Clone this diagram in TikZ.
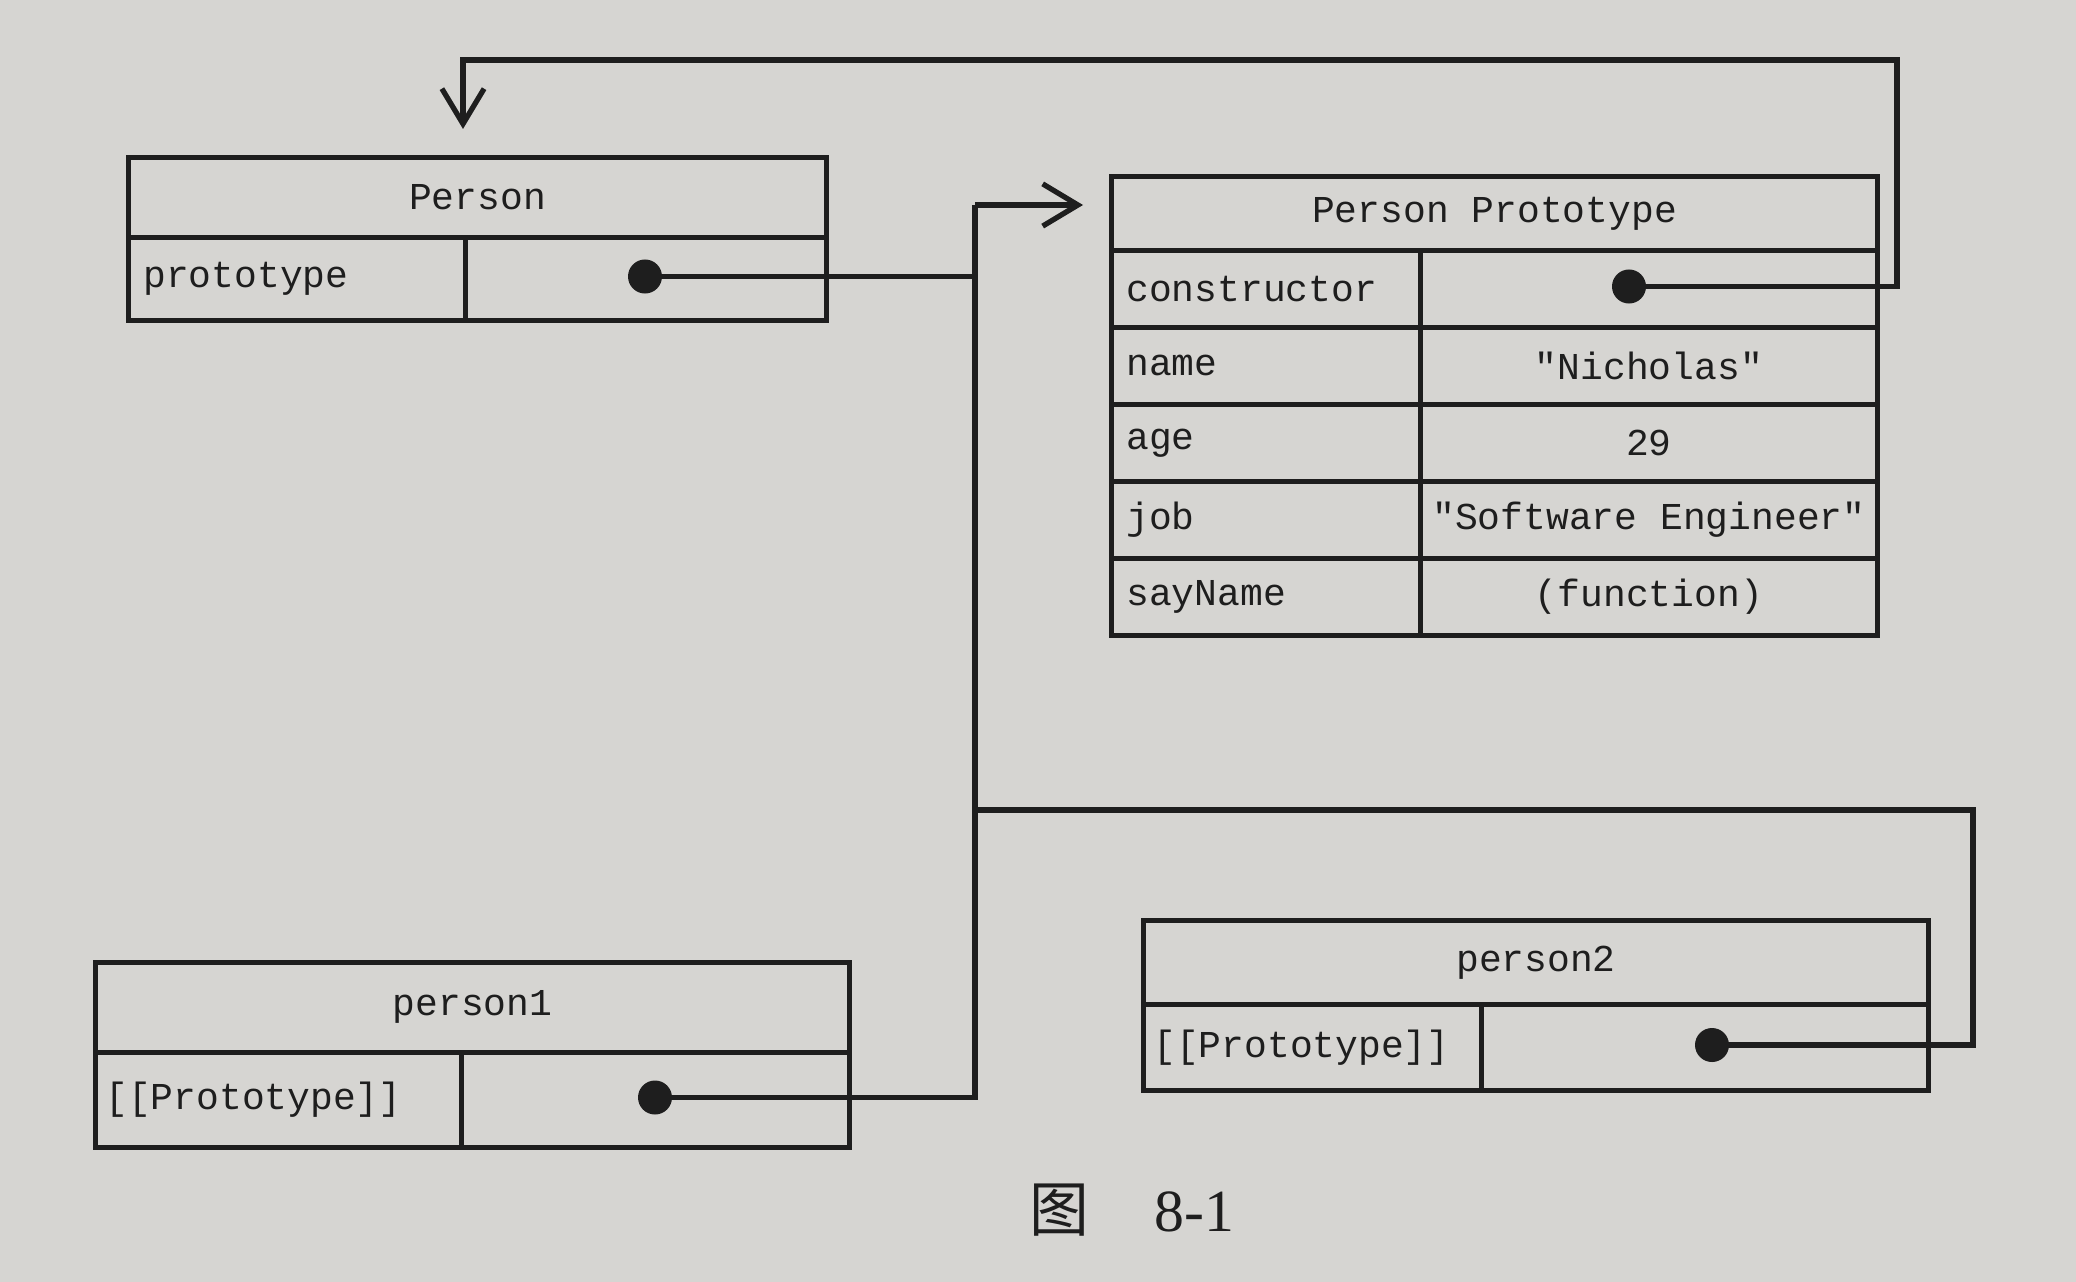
\documentclass[tikz,border=0pt]{standalone}
\usepackage{fontspec}
\usetikzlibrary{arrows.meta}
\newfontfamily\monof{Liberation Mono}
\newfontfamily\cjkf{Noto Sans CJK SC}
\newfontfamily\serf{Liberation Serif}
\definecolor{paper}{RGB}{214,213,210}
\definecolor{ink}{RGB}{30,30,30}
\tikzset{
  cell/.style={draw=ink, line width=1.3pt, inner sep=0pt, anchor=north west,
    font=\monof\fontsize{10.8}{12}\selectfont, text=ink},
  keycell/.style={cell, align=left},
  dotnode/.style={circle, fill=ink, inner sep=0pt, minimum size=0.34cm},
  wire/.style={draw=ink, line width=1.5pt, line join=miter},
  arr/.style={wire, -{Straight Barb[length=10pt,width=12pt]}}
}
\begin{document}
\begin{tikzpicture}[x=0.01cm, y=-0.01cm]
\fill[paper] (0,0) rectangle (2076,1282);
\useasboundingbox (0,0) rectangle (2076,1282);

% Person
\node[cell, minimum width=6.98cm, minimum height=0.80cm] (phead) at (126,155) {Person};
\node[keycell, minimum width=3.37cm, minimum height=0.83cm, text width=3.07cm] (pkey) at (126,235) {prototype};
\node[cell, minimum width=3.61cm, minimum height=0.83cm] (pval) at (463,235) {};
\node[dotnode] (pdot) at (645,276.5) {};

% Person Prototype
\node[cell, minimum width=7.66cm, minimum height=0.74cm] (prhead) at (1109,174) {Person Prototype};
\node[keycell, minimum width=3.09cm, minimum height=0.77cm, text width=2.79cm] (k1) at (1109,248) {constructor};
\node[cell, minimum width=4.57cm, minimum height=0.77cm] (v1) at (1418,248) {};
\node[keycell, minimum width=3.09cm, minimum height=0.77cm, text width=2.79cm] (k2) at (1109,325) {name};
\node[cell, minimum width=4.57cm, minimum height=0.77cm] (v2) at (1418,325) {"Nicholas"};
\node[keycell, minimum width=3.09cm, minimum height=0.77cm, text width=2.79cm] (k3) at (1109,402) {age};
\node[cell, minimum width=4.57cm, minimum height=0.77cm] (v3) at (1418,402) {29};
\node[keycell, minimum width=3.09cm, minimum height=0.77cm, text width=2.79cm] (k4) at (1109,479) {job};
\node[cell, minimum width=4.57cm, minimum height=0.77cm] (v4) at (1418,479) {"Software Engineer"};
\node[keycell, minimum width=3.09cm, minimum height=0.77cm, text width=2.79cm] (k5) at (1109,556) {sayName};
\node[cell, minimum width=4.57cm, minimum height=0.77cm] (v5) at (1418,556) {(function)};
\node[dotnode] (cdot) at (1629,286.5) {};

% person1
\node[cell, minimum width=7.54cm, minimum height=0.90cm] (p1head) at (93,960) {person1};
\node[keycell, minimum width=3.66cm, minimum height=0.95cm, text width=3.46cm] (p1key) at (93,1050) {[[Prototype]]};
\node[cell, minimum width=3.88cm, minimum height=0.95cm] (p1val) at (459,1050) {};
\node[dotnode] (d1) at (655,1097.5) {};

% person2
\node[cell, minimum width=7.85cm, minimum height=0.84cm] (p2head) at (1141,918) {person2};
\node[keycell, minimum width=3.38cm, minimum height=0.86cm, text width=3.18cm] (p2key) at (1141,1002) {[[Prototype]]};
\node[cell, minimum width=4.47cm, minimum height=0.86cm] (p2val) at (1479,1002) {};
\node[dotnode] (d2) at (1712,1045) {};

% wiring coordinates
\coordinate (busTop) at (975,205);
\coordinate (busBot) at (975,1097.5);
\coordinate (busMid) at (975,810);
\coordinate (loopR) at (1897,60);
\coordinate (loopL) at (463,60);
\coordinate (p2R) at (1973,810);

% constructor -> Person
\draw[arr, shorten >=0.26cm] (cdot.center) -- (cdot.center -| loopR) -- (loopR) -- (loopL) -- (loopL |- phead.north);
% bus -> Person Prototype
\draw[arr, shorten >=0.26cm] (busTop) -- (busTop -| prhead.west);
\draw[wire] (pdot.center) -- (pdot.center -| busTop);
\draw[wire] (d1.center) -- (busBot) -- (busTop);
\draw[wire] (d2.center) -- (d2.center -| p2R) -- (p2R) -- (busMid);

% caption
\node[text=ink, anchor=center] (cap) at (1132,1210) {\cjkf\fontsize{17}{20}\selectfont 图\hspace{1.1em}\serf 8-1};
\end{tikzpicture}
\end{document}
